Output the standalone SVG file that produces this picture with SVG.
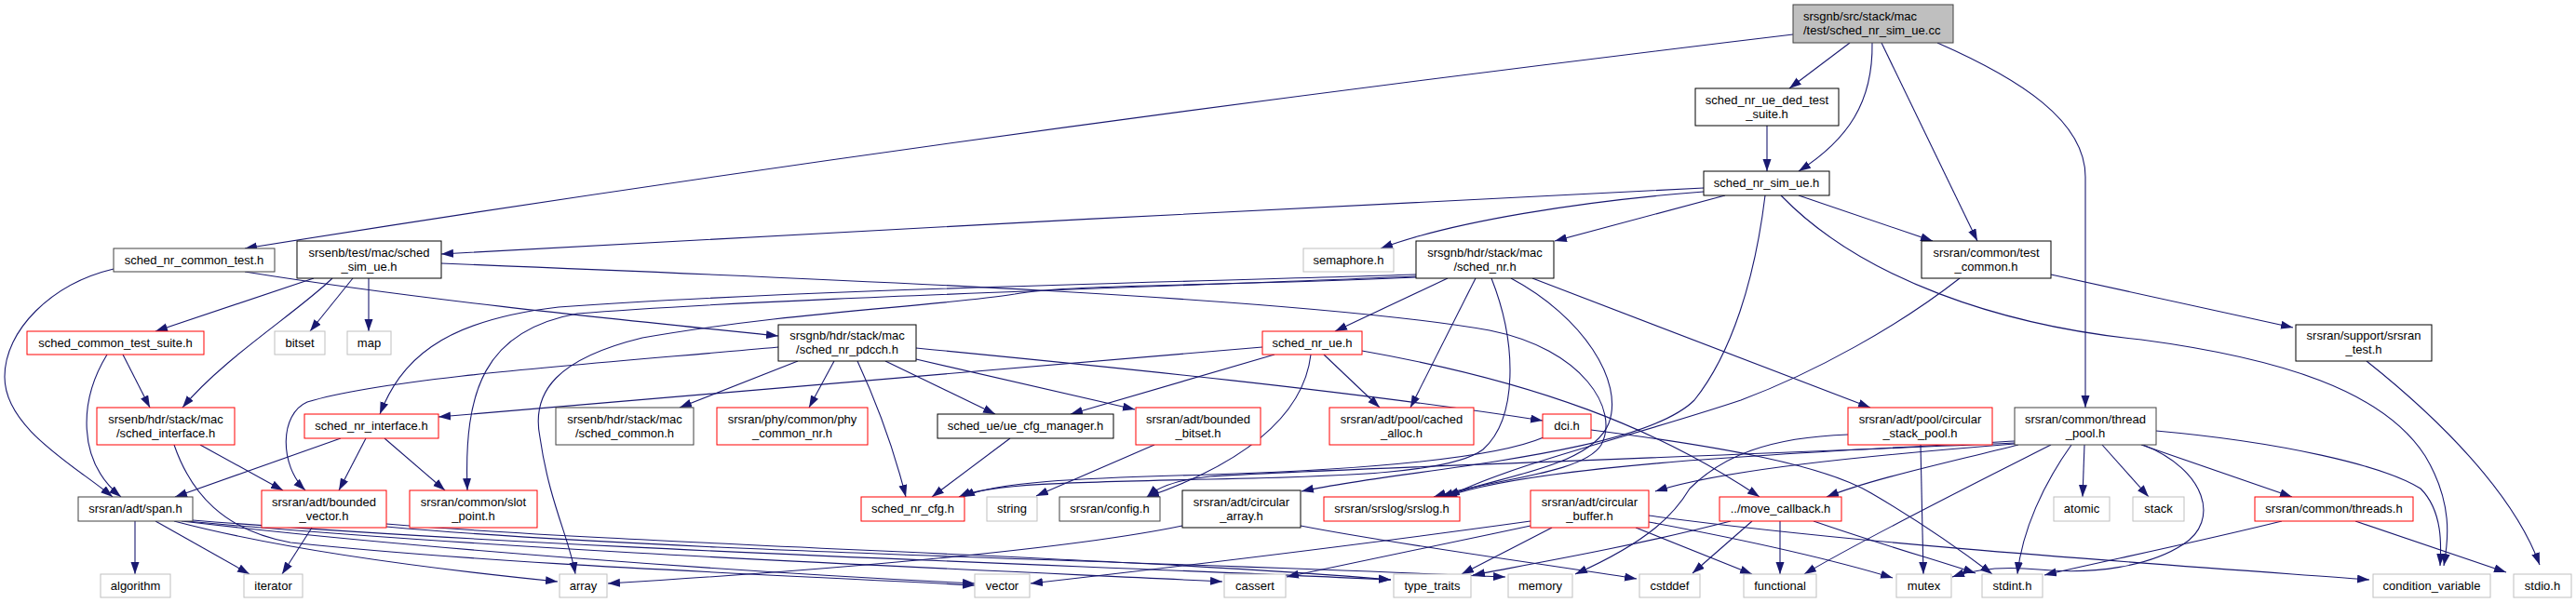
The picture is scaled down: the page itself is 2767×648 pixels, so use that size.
<svg xmlns="http://www.w3.org/2000/svg" width="2767" height="648" viewBox="0 0 2767 648">
<style>
rect{fill:#ffffff;stroke:#000000;stroke-width:1}
.r rect{stroke:#ff0000}
.g rect{stroke:#bfbfbf}
.d rect{stroke:#404040}
.root rect{fill:#bfbfbf;stroke:#404040}
text{font-family:"Liberation Sans",Arial,sans-serif;font-size:13px;fill:#000000;text-anchor:middle}
.root text{text-anchor:start}
#edges path{fill:none;stroke:#191970;stroke-width:1.1;marker-end:url(#ah)}
</style>
<defs>
<marker id="ah" markerUnits="userSpaceOnUse" markerWidth="14" markerHeight="10" refX="13" refY="4.5" orient="auto"><path d="M0,0 L13,4.5 L0,9 z" fill="#191970"/></marker>
</defs>
<rect x="0" y="0" width="2767" height="648" style="fill:#ffffff;stroke:none"/>
<g id="edges">
<path d="M1926,37 C1500,88 900,165 263,267"/>
<path d="M1987,46 L1922,95"/>
<path d="M2011,46 C2012,110 1985,150 1932,184"/>
<path d="M2021,46 L2124,259"/>
<path d="M2081,46 C2170,85 2240,130 2240,190 L2240,438"/>
<path d="M1898,135 L1898,184"/>
<path d="M1830,202 C1400,222 900,250 474,273"/>
<path d="M1830,206 C1700,216 1560,238 1483,267"/>
<path d="M1853,210 L1670,259"/>
<path d="M1932,210 L2076,259"/>
<path d="M1896,210 C1885,300 1860,380 1820,430 C1760,490 1500,505 1398,528"/>
<path d="M1913,210 C2000,300 2150,350 2300,365 C2450,385 2560,420 2605,490 C2635,540 2630,580 2625,608"/>
<path d="M337,299 L167,356"/>
<path d="M357,299 C320,335 240,385 196,438"/>
<path d="M379,299 L333,356"/>
<path d="M396,299 L396,356"/>
<path d="M474,283 C900,300 1400,320 1600,355 C1700,375 1740,440 1720,478 C1700,510 1600,515 1540,534"/>
<path d="M122,289 C55,305 5,355 5,405 C5,460 80,500 121,534"/>
<path d="M263,292 C450,322 650,342 836,361"/>
<path d="M132,381 L161,438"/>
<path d="M115,381 C85,430 82,495 130,534"/>
<path d="M215,478 L304,527"/>
<path d="M187,478 C205,530 240,570 312,583 C550,608 850,618 1047,629"/>
<path d="M857,388 L730,438"/>
<path d="M896,388 L869,438"/>
<path d="M921,388 C945,440 962,490 973,534"/>
<path d="M951,388 L1069,445"/>
<path d="M984,386 L1219,440"/>
<path d="M984,374 C1200,395 1450,420 1657,452"/>
<path d="M836,373 C650,390 420,405 330,432 C300,445 300,500 328,527"/>
<path d="M1555,299 L1434,356"/>
<path d="M1585,299 L1515,438"/>
<path d="M1602,299 C1630,370 1630,450 1593,483 C1560,508 1450,512 1300,515 C1150,518 1060,520 1030,534"/>
<path d="M1623,299 C1700,340 1745,410 1728,455 C1710,500 1620,510 1548,534"/>
<path d="M1646,299 L2009,438"/>
<path d="M1521,295 C1200,305 850,312 600,330 C470,345 430,390 408,445"/>
<path d="M1521,297 C1200,310 800,322 620,337 C520,355 498,420 502,527"/>
<path d="M1521,298 C1300,308 1150,305 1090,316 C1000,330 850,335 690,363 C600,385 570,420 580,470 C590,540 612,580 618,617"/>
<path d="M1356,373 C1000,405 700,430 471,448"/>
<path d="M1369,381 L1150,445"/>
<path d="M1408,381 C1400,450 1330,500 1232,534"/>
<path d="M1422,381 L1482,438"/>
<path d="M1463,377 C1650,410 1780,460 1890,534"/>
<path d="M366,471 L188,534"/>
<path d="M393,471 L364,527"/>
<path d="M413,471 L478,527"/>
<path d="M335,567 L303,617"/>
<path d="M415,566 C700,592 1200,602 1617,620"/>
<path d="M415,563 C700,586 1200,598 1494,623"/>
<path d="M145,560 L145,617"/>
<path d="M167,560 L268,617"/>
<path d="M187,560 C300,590 450,610 599,625"/>
<path d="M195,560 C450,590 800,615 1047,627"/>
<path d="M200,560 C550,592 1000,610 1313,625"/>
<path d="M207,559 C600,590 1100,605 1494,623"/>
<path d="M1240,478 L1113,533"/>
<path d="M1085,471 L1001,534"/>
<path d="M1658,470 C1600,495 1450,505 1300,510 C1150,514 1070,518 1034,534"/>
<path d="M1709,462 C1850,480 1960,500 2010,530 C2070,565 2115,598 2140,617"/>
<path d="M1270,565 C1150,590 900,612 653,627"/>
<path d="M1397,565 C1500,585 1650,605 1758,622"/>
<path d="M1667,567 L1570,617"/>
<path d="M1757,567 L1882,617"/>
<path d="M1771,561 C1900,585 1980,605 2033,621"/>
<path d="M1771,554 C2000,585 2300,605 2545,623"/>
<path d="M1644,560 C1500,580 1300,605 1107,627"/>
<path d="M1644,565 C1550,585 1450,605 1382,620"/>
<path d="M1882,560 L1818,616"/>
<path d="M1912,560 L1912,617"/>
<path d="M1859,560 C1750,588 1650,605 1582,618"/>
<path d="M1948,560 C2020,585 2090,605 2122,616"/>
<path d="M2063,478 L2066,617"/>
<path d="M1985,467 C1900,470 1850,490 1815,525 C1800,550 1775,580 1692,617"/>
<path d="M2164,474 C1900,488 1650,500 1552,534"/>
<path d="M2164,476 C1800,492 1400,505 1300,512 C1270,515 1245,522 1232,534"/>
<path d="M2164,477 C2000,490 1850,505 1778,528"/>
<path d="M2168,478 C2080,500 2010,515 1962,534"/>
<path d="M2203,478 C2120,520 2000,580 1938,617"/>
<path d="M2225,478 C2195,520 2172,570 2167,617"/>
<path d="M2239,478 L2237,534"/>
<path d="M2258,478 L2308,534"/>
<path d="M2300,478 L2462,534"/>
<path d="M2302,478 C2370,505 2385,560 2345,585 C2310,608 2250,618 2190,612 C2150,608 2120,612 2097,620"/>
<path d="M2316,463 C2450,475 2560,500 2600,525 C2625,550 2622,590 2621,608"/>
<path d="M2451,560 C2350,585 2250,605 2196,618"/>
<path d="M2530,560 L2692,615"/>
<path d="M2542,388 C2620,450 2700,530 2728,607"/>
<path d="M2203,295 L2463,352"/>
<path d="M2105,299 C2040,350 1950,400 1870,430 C1750,470 1620,500 1555,534"/>
</g>
<g id="n-root" class="root"><rect x="1926" y="5" width="172" height="41"/><text x="1937" y="22">srsgnb/src/stack/mac</text><text x="1937" y="37">/test/sched_nr_sim_ue.cc</text></g>
<g id="n-ded"><rect x="1821" y="95" width="154" height="40"/><text x="1898" y="111.5">sched_nr_ue_ded_test</text><text x="1898" y="126.5">_suite.h</text></g>
<g id="n-simue"><rect x="1830" y="184" width="135" height="26"/><text x="1897.5" y="201">sched_nr_sim_ue.h</text></g>
<g id="n-nrct" class="d"><rect x="122" y="267" width="173" height="25"/><text x="208.5" y="283.5">sched_nr_common_test.h</text></g>
<g id="n-simenb"><rect x="319" y="259" width="155" height="40"/><text x="396.5" y="275.5">srsenb/test/mac/sched</text><text x="396.5" y="290.5">_sim_ue.h</text></g>
<g id="n-sem" class="g"><rect x="1400" y="267" width="97" height="25"/><text x="1448.5" y="283.5">semaphore.h</text></g>
<g id="n-schednr"><rect x="1521" y="259" width="148" height="40"/><text x="1595" y="275.5">srsgnb/hdr/stack/mac</text><text x="1595" y="290.5">/sched_nr.h</text></g>
<g id="n-testcommon"><rect x="2064" y="259" width="139" height="40"/><text x="2133.5" y="275.5">srsran/common/test</text><text x="2133.5" y="290.5">_common.h</text></g>
<g id="n-ctsuite" class="r"><rect x="29" y="356" width="190" height="25"/><text x="124" y="372.5">sched_common_test_suite.h</text></g>
<g id="n-bitset" class="g"><rect x="295" y="356" width="54" height="25"/><text x="322" y="372.5">bitset</text></g>
<g id="n-map" class="g"><rect x="373" y="356" width="47" height="25"/><text x="396.5" y="372.5">map</text></g>
<g id="n-pdcch"><rect x="836" y="349" width="148" height="39"/><text x="910" y="365">srsgnb/hdr/stack/mac</text><text x="910" y="380">/sched_nr_pdcch.h</text></g>
<g id="n-nrue" class="r"><rect x="1356" y="356" width="107" height="25"/><text x="1409.5" y="372.5">sched_nr_ue.h</text></g>
<g id="n-srstest"><rect x="2466" y="349" width="146" height="39"/><text x="2539" y="365">srsran/support/srsran</text><text x="2539" y="380">_test.h</text></g>
<g id="n-schedif" class="r"><rect x="104" y="438" width="148" height="40"/><text x="178" y="454.5">srsenb/hdr/stack/mac</text><text x="178" y="469.5">/sched_interface.h</text></g>
<g id="n-nrif" class="r"><rect x="327" y="445" width="144" height="26"/><text x="399" y="462">sched_nr_interface.h</text></g>
<g id="n-schedcommon" class="d"><rect x="597" y="438" width="148" height="40"/><text x="671" y="454.5">srsenb/hdr/stack/mac</text><text x="671" y="469.5">/sched_common.h</text></g>
<g id="n-phy" class="r"><rect x="770" y="438" width="162" height="40"/><text x="851" y="454.5">srsran/phy/common/phy</text><text x="851" y="469.5">_common_nr.h</text></g>
<g id="n-uecfg"><rect x="1007" y="445" width="189" height="26"/><text x="1101.5" y="462">sched_ue/ue_cfg_manager.h</text></g>
<g id="n-bbitset" class="r"><rect x="1220" y="438" width="134" height="40"/><text x="1287" y="454.5">srsran/adt/bounded</text><text x="1287" y="469.5">_bitset.h</text></g>
<g id="n-cached" class="r"><rect x="1428" y="438" width="155" height="40"/><text x="1505.5" y="454.5">srsran/adt/pool/cached</text><text x="1505.5" y="469.5">_alloc.h</text></g>
<g id="n-dci" class="r"><rect x="1657" y="445" width="52" height="26"/><text x="1683" y="462">dci.h</text></g>
<g id="n-cstack" class="r"><rect x="1985" y="438" width="155" height="40"/><text x="2062.5" y="454.5">srsran/adt/pool/circular</text><text x="2062.5" y="469.5">_stack_pool.h</text></g>
<g id="n-tpool" class="d"><rect x="2164" y="438" width="152" height="40"/><text x="2240" y="454.5">srsran/common/thread</text><text x="2240" y="469.5">_pool.h</text></g>
<g id="n-span" class="d"><rect x="84" y="534" width="123" height="26"/><text x="145.5" y="551">srsran/adt/span.h</text></g>
<g id="n-bvector" class="r"><rect x="281" y="527" width="134" height="40"/><text x="348" y="543.5">srsran/adt/bounded</text><text x="348" y="558.5">_vector.h</text></g>
<g id="n-slot" class="r"><rect x="440" y="527" width="137" height="40"/><text x="508.5" y="543.5">srsran/common/slot</text><text x="508.5" y="558.5">_point.h</text></g>
<g id="n-nrcfg" class="r"><rect x="925" y="534" width="111" height="26"/><text x="980.5" y="551">sched_nr_cfg.h</text></g>
<g id="n-string" class="g"><rect x="1060" y="534" width="54" height="26"/><text x="1087" y="551">string</text></g>
<g id="n-config" class="d"><rect x="1138" y="534" width="108" height="26"/><text x="1192" y="551">srsran/config.h</text></g>
<g id="n-carray"><rect x="1270" y="527" width="127" height="40"/><text x="1333.5" y="543.5">srsran/adt/circular</text><text x="1333.5" y="558.5">_array.h</text></g>
<g id="n-srslog" class="r"><rect x="1422" y="534" width="146" height="26"/><text x="1495" y="551">srsran/srslog/srslog.h</text></g>
<g id="n-cbuffer" class="r"><rect x="1644" y="527" width="127" height="40"/><text x="1707.5" y="543.5">srsran/adt/circular</text><text x="1707.5" y="558.5">_buffer.h</text></g>
<g id="n-movecb" class="r"><rect x="1847" y="534" width="131" height="26"/><text x="1912.5" y="551">../move_callback.h</text></g>
<g id="n-atomic" class="g"><rect x="2206" y="534" width="60" height="26"/><text x="2236" y="551">atomic</text></g>
<g id="n-stack" class="g"><rect x="2291" y="534" width="55" height="26"/><text x="2318.5" y="551">stack</text></g>
<g id="n-threads" class="r"><rect x="2422" y="534" width="170" height="26"/><text x="2507" y="551">srsran/common/threads.h</text></g>
<g id="n-algorithm" class="g"><rect x="108" y="617" width="75" height="25"/><text x="145.5" y="633.5">algorithm</text></g>
<g id="n-iterator" class="g"><rect x="262" y="617" width="63" height="25"/><text x="293.5" y="633.5">iterator</text></g>
<g id="n-array" class="g"><rect x="601" y="617" width="51" height="25"/><text x="626.5" y="633.5">array</text></g>
<g id="n-vector" class="g"><rect x="1047" y="617" width="59" height="25"/><text x="1076.5" y="633.5">vector</text></g>
<g id="n-cassert" class="g"><rect x="1315" y="617" width="66" height="25"/><text x="1348" y="633.5">cassert</text></g>
<g id="n-typetraits" class="g"><rect x="1497" y="617" width="83" height="25"/><text x="1538.5" y="633.5">type_traits</text></g>
<g id="n-memory" class="g"><rect x="1620" y="617" width="69" height="25"/><text x="1654.5" y="633.5">memory</text></g>
<g id="n-cstddef" class="g"><rect x="1761" y="617" width="65" height="25"/><text x="1793.5" y="633.5">cstddef</text></g>
<g id="n-functional" class="g"><rect x="1873" y="617" width="78" height="25"/><text x="1912" y="633.5">functional</text></g>
<g id="n-mutex" class="g"><rect x="2037" y="617" width="59" height="25"/><text x="2066.5" y="633.5">mutex</text></g>
<g id="n-stdint" class="g"><rect x="2129" y="617" width="65" height="25"/><text x="2161.5" y="633.5">stdint.h</text></g>
<g id="n-condvar" class="g"><rect x="2549" y="617" width="126" height="25"/><text x="2612" y="633.5">condition_variable</text></g>
<g id="n-stdio" class="g"><rect x="2700" y="617" width="62" height="25"/><text x="2731" y="633.5">stdio.h</text></g>
</svg>
